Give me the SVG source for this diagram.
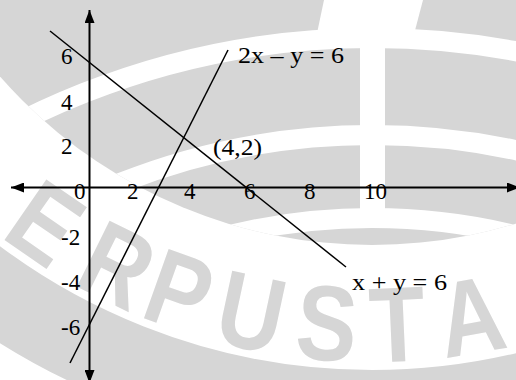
<svg xmlns="http://www.w3.org/2000/svg" width="516" height="380" viewBox="0 0 516 380">
  <style>
    .wm { fill: #d6d6d6; }
    .wml { fill: #d6d6d6; font-family: "Liberation Sans", Arial, sans-serif; font-weight: bold; font-size: 107px; text-anchor: middle; }
    .axis { stroke: #000; stroke-width: 2; fill: none; }
    .graph { stroke: #000; stroke-width: 1.5; fill: none; }
    .lbl { font-family: "Liberation Serif", "Times New Roman", serif; font-size: 23px; fill: #000; }
  </style>
  <defs>
    <clipPath id="seal">
      <circle cx="372" cy="-250" r="495"/>
    </clipPath>
    <marker id="arrow" viewBox="0 0 13 10" refX="13" refY="5" markerWidth="13" markerHeight="10" markerUnits="userSpaceOnUse" orient="auto-start-reverse">
      <path d="M0,0 L13,5 L0,10 z" fill="#000"/>
    </marker>
  </defs>

  <rect x="0" y="0" width="516" height="380" fill="#fff"/>

  <!-- watermark -->
  <g id="watermark">
    <g clip-path="url(#seal)">
      <rect class="wm" x="0" y="0" width="516" height="380"/>
      <circle cx="372" cy="820" r="782" fill="none" stroke="#fff" stroke-width="20"/>
      <circle cx="372" cy="820" r="685" fill="none" stroke="#fff" stroke-width="20"/>
      <circle cx="372" cy="820" r="602" fill="none" stroke="#fff" stroke-width="20"/>
      <rect x="360" y="40" width="25" height="175" fill="#fff"/>
      <polygon points="324,0 423,0 413,38 316,38" fill="#fff"/>
    </g>
    <circle cx="372" cy="-250" r="660" fill="none" stroke="#d6d6d6" stroke-width="80"/>
    <text class="wml" transform="rotate(34.6 372 -250) translate(372 362) scale(0.85 1)">E</text>
    <text class="wml" transform="rotate(26.3 372 -250) translate(372 362) scale(0.85 1)">R</text>
    <text class="wml" transform="rotate(19.6 372 -250) translate(372 362) scale(0.85 1)">P</text>
    <text class="wml" transform="rotate(12.1 372 -250) translate(372 362) scale(0.85 1)">U</text>
    <text class="wml" transform="rotate(4.5 372 -250) translate(372 362) scale(0.85 1)">S</text>
    <text class="wml" transform="rotate(-2.5 372 -250) translate(372 362) scale(0.85 1)">T</text>
    <text class="wml" transform="rotate(-9.9 372 -250) translate(372 362) scale(0.85 1)">A</text>
  </g>

  <!-- axes and graph lines -->
  <g id="connectors">
    <line id="x-axis" class="axis" x1="11" y1="187.5" x2="520" y2="187.5" marker-start="url(#arrow)" marker-end="url(#arrow)"/>
    <line id="y-axis" class="axis" x1="89.5" y1="10" x2="89.5" y2="383" marker-start="url(#arrow)" marker-end="url(#arrow)"/>
    <line id="line-x-plus-y" class="graph" x1="50" y1="31" x2="346" y2="267"/>
    <line id="line-2x-minus-y" class="graph" x1="228" y1="50" x2="70" y2="363"/>
  </g>

  <!-- y tick labels -->
  <g id="y-labels" class="lbl">
    <text x="61" y="63.5">6</text>
    <text x="61" y="109.5">4</text>
    <text x="61" y="154">2</text>
    <text x="61" y="245">-2</text>
    <text x="61" y="290">-4</text>
    <text x="61" y="335">-6</text>
  </g>

  <!-- x tick labels -->
  <g id="x-labels" class="lbl">
    <text x="74" y="199">0</text>
    <text x="127" y="199">2</text>
    <text x="184" y="199">4</text>
    <text x="244" y="199">6</text>
    <text x="304" y="199">8</text>
    <text x="364" y="199">10</text>
  </g>

  <!-- equation labels -->
  <g id="label-2x-y" class="lbl"><text x="238" y="63" textLength="106" lengthAdjust="spacingAndGlyphs">2x – y = 6</text></g>
  <g id="label-point" class="lbl"><text x="213" y="154.5" textLength="49" lengthAdjust="spacingAndGlyphs">(4,2)</text></g>
  <g id="label-x-y" class="lbl"><text x="352" y="290" textLength="95" lengthAdjust="spacingAndGlyphs">x + y = 6</text></g>
</svg>
